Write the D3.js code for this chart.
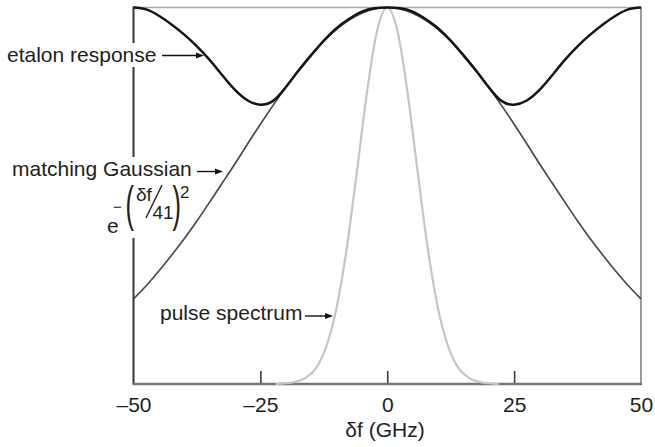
<!DOCTYPE html>
<html>
<head>
<meta charset="utf-8">
<script src="https://cdn.jsdelivr.net/npm/d3@7"></script>
<style>
  html, body { margin: 0; padding: 0; background: #fff; }
  svg { display: block; font-family: "Liberation Sans", Arial, Helvetica, sans-serif; }
</style>
</head>
<body>
<svg id="chart" width="655" height="447"></svg>
<script>
// Frequency offset grid (GHz) for the etalon and Gaussian curves
const freqGHz = [-50, -47.5, -45, -42.5, -40, -37.5, -35, -32.5, -30, -27.5, -25,
                 -22.5, -20, -17.5, -15, -12.5, -10, -7.5, -5, -2.5, 0,
                 2.5, 5, 7.5, 10, 12.5, 15, 17.5, 20, 22.5, 25,
                 27.5, 30, 32.5, 35, 37.5, 40, 42.5, 45, 47.5, 50];

// Normalised etalon transmission
const etalonResponse = [1.000, 0.995, 0.978, 0.955, 0.928, 0.897, 0.861, 0.820, 0.781, 0.753, 0.742,
                        0.752, 0.788, 0.832, 0.873, 0.912, 0.945, 0.970, 0.989, 0.998, 1.000,
                        0.998, 0.989, 0.970, 0.945, 0.912, 0.873, 0.832, 0.788, 0.752, 0.742,
                        0.753, 0.781, 0.820, 0.861, 0.897, 0.928, 0.955, 0.978, 0.995, 1.000];

// Gaussian matched to the central etalon peak
const matchingGaussian = [0.226, 0.261, 0.300, 0.342, 0.386, 0.433, 0.483, 0.534, 0.585, 0.638, 0.690,
                          0.740, 0.788, 0.833, 0.875, 0.911, 0.942, 0.967, 0.985, 0.996, 1.000,
                          0.996, 0.985, 0.967, 0.942, 0.911, 0.875, 0.833, 0.788, 0.740, 0.690,
                          0.638, 0.585, 0.534, 0.483, 0.433, 0.386, 0.342, 0.300, 0.261, 0.226];

// Pulse spectrum, sampled over its non-zero extent
const pulseFreqGHz = [-22, -20, -18, -16, -14, -12, -10, -8, -6, -4, -2, 0,
                      2, 4, 6, 8, 10, 12, 14, 16, 18, 20, 22];
const pulseSpectrum = [0.000, 0.002, 0.006, 0.017, 0.043, 0.100, 0.201, 0.359, 0.562, 0.774, 0.938, 1.000,
                       0.938, 0.774, 0.562, 0.359, 0.201, 0.100, 0.043, 0.017, 0.006, 0.002, 0.000];

// Axis ticks
const tickValues = [-50, -25, 0, 25, 50];
const tickLabels = ["\u201350", "\u201325", "0", "25", "50"];

const svg = d3.select("#chart");
const plot = { left: 133.5, right: 641, top: 7.5, bottom: 384 };
const FONT = 21;
const TEXT = "#1e1e1e";

const x = d3.scaleLinear().domain([-50, 50]).range([plot.left, plot.right]);
const y = d3.scaleLinear().domain([0, 1]).range([plot.bottom, plot.top]);

// Frame: light top and right edges, dark left axis, grey bottom axis
svg.append("line")
  .attr("x1", plot.left).attr("x2", plot.right + 1)
  .attr("y1", plot.top).attr("y2", plot.top)
  .attr("stroke", "#a9a9a9").attr("stroke-width", 1.5);
svg.append("line")
  .attr("x1", plot.right).attr("x2", plot.right)
  .attr("y1", plot.top - 0.5).attr("y2", plot.bottom)
  .attr("stroke", "#9c9c9c").attr("stroke-width", 2);
svg.append("line")
  .attr("x1", plot.left).attr("x2", plot.left)
  .attr("y1", plot.top - 1).attr("y2", plot.bottom)
  .attr("stroke", "#363636").attr("stroke-width", 2);

const xAxis = d3.axisBottom(x)
  .tickValues(tickValues)
  .tickFormat((d, i) => tickLabels[i])
  .tickSizeInner(-13)
  .tickSizeOuter(0)
  .tickPadding(13);

const gx = svg.append("g")
  .attr("transform", `translate(0,${plot.bottom})`)
  .call(xAxis);
gx.select(".domain").remove();
gx.selectAll(".tick line")
  .attr("stroke", "#3c3c3c").attr("stroke-width", 1.6)
  .filter(d => d === -50 || d === 50).remove();
gx.selectAll(".tick text")
  .attr("font-size", FONT)
  .attr("font-family", "Liberation Sans, Arial, sans-serif")
  .attr("fill", TEXT);

svg.append("line")
  .attr("x1", plot.left - 1).attr("x2", plot.right + 1)
  .attr("y1", plot.bottom).attr("y2", plot.bottom)
  .attr("stroke", "#747474").attr("stroke-width", 2.5);

svg.append("text")
  .attr("x", 385).attr("y", 437)
  .attr("text-anchor", "middle")
  .attr("font-size", FONT).attr("fill", TEXT)
  .text("\u03b4f (GHz)");

// Layers: white patches under labels, then curves, then labels
const bgLayer = svg.append("g");
const curveLayer = svg.append("g");
const labelLayer = svg.append("g");

function arrow(g, x1, x2, yy) {
  g.append("line")
    .attr("x1", x1).attr("x2", x2 - 6)
    .attr("y1", yy).attr("y2", yy)
    .attr("stroke", "#111").attr("stroke-width", 1.4);
  g.append("path")
    .attr("d", `M${x2},${yy} L${x2 - 8},${yy - 3} L${x2 - 8},${yy + 3} Z`)
    .attr("fill", "#111");
}

const etalonLabel = labelLayer.append("g");
etalonLabel.append("text")
  .attr("x", 7).attr("y", 62)
  .attr("font-size", FONT).attr("fill", TEXT)
  .text("etalon response");
arrow(etalonLabel, 162, 204, 55.5);

const gaussLabel = labelLayer.append("g");
gaussLabel.append("text")
  .attr("x", 12).attr("y", 176)
  .attr("font-size", FONT).attr("fill", TEXT)
  .text("matching Gaussian");
arrow(gaussLabel, 197, 223, 171.5);

// Formula e^-(δf/41)^2
const formula = labelLayer.append("g").attr("fill", TEXT);
formula.append("text").attr("x", 107).attr("y", 233)
  .attr("font-size", FONT).text("e");
formula.append("text").attr("x", 113).attr("y", 212)
  .attr("font-size", 15).text("\u2212");
formula.append("g").attr("transform", "translate(125.5,221) scale(1.15,2.25)")
  .append("text").attr("x", 0).attr("y", 0)
  .attr("font-size", 22).text("(");
formula.append("text").attr("x", 136).attr("y", 201)
  .attr("font-size", 19).text("\u03b4f");
formula.append("line")
  .attr("x1", 146).attr("y1", 218).attr("x2", 162).attr("y2", 185)
  .attr("stroke", TEXT).attr("stroke-width", 1.4);
formula.append("text").attr("x", 152.5).attr("y", 219)
  .attr("font-size", 19).text("41");
formula.append("g").attr("transform", "translate(172.5,221) scale(1.15,2.25)")
  .append("text").attr("x", 0).attr("y", 0)
  .attr("font-size", 22).text(")");
formula.append("text").attr("x", 180).attr("y", 198)
  .attr("font-size", 17).text("2");

const pulseLabel = labelLayer.append("g");
pulseLabel.append("text")
  .attr("x", 160).attr("y", 320)
  .attr("font-size", FONT).attr("fill", TEXT)
  .text("pulse spectrum");
arrow(pulseLabel, 305, 333, 316);

// White patches behind the two labels that cross the left axis
[[etalonLabel], [gaussLabel, formula]].forEach(groups => {
  const boxes = groups.map(g => g.node().getBBox());
  const x0 = d3.min(boxes, b => b.x), y0 = d3.min(boxes, b => b.y);
  const x1 = d3.max(boxes, b => b.x + b.width), y1 = d3.max(boxes, b => b.y + b.height);
  bgLayer.append("rect")
    .attr("x", x0 - 2).attr("y", y0)
    .attr("width", Math.min(x1, 180) - x0 + 2).attr("height", y1 - y0 + 1)
    .attr("fill", "#fff");
});

// Curves
const smoothLine = d3.line()
  .x(d => x(d[0]))
  .y(d => y(d[1]))
  .curve(d3.curveNatural);
const pulseLine = d3.line()
  .x(d => x(d[0]))
  .y(d => y(d[1]))
  .curve(d3.curveMonotoneX);

curveLayer.append("path")
  .datum(pulseFreqGHz.map((f, i) => [f, pulseSpectrum[i]]))
  .attr("d", pulseLine)
  .attr("fill", "none").attr("stroke", "#c6c6c6").attr("stroke-width", 2.2);

curveLayer.append("path")
  .datum(freqGHz.map((f, i) => [f, matchingGaussian[i]]))
  .attr("d", smoothLine)
  .attr("fill", "none").attr("stroke", "#4a4a4a").attr("stroke-width", 1.7);

curveLayer.append("path")
  .datum(freqGHz.map((f, i) => [f, etalonResponse[i]]))
  .attr("d", smoothLine)
  .attr("fill", "none").attr("stroke", "#141414").attr("stroke-width", 2.5);
</script>
</body>
</html>
